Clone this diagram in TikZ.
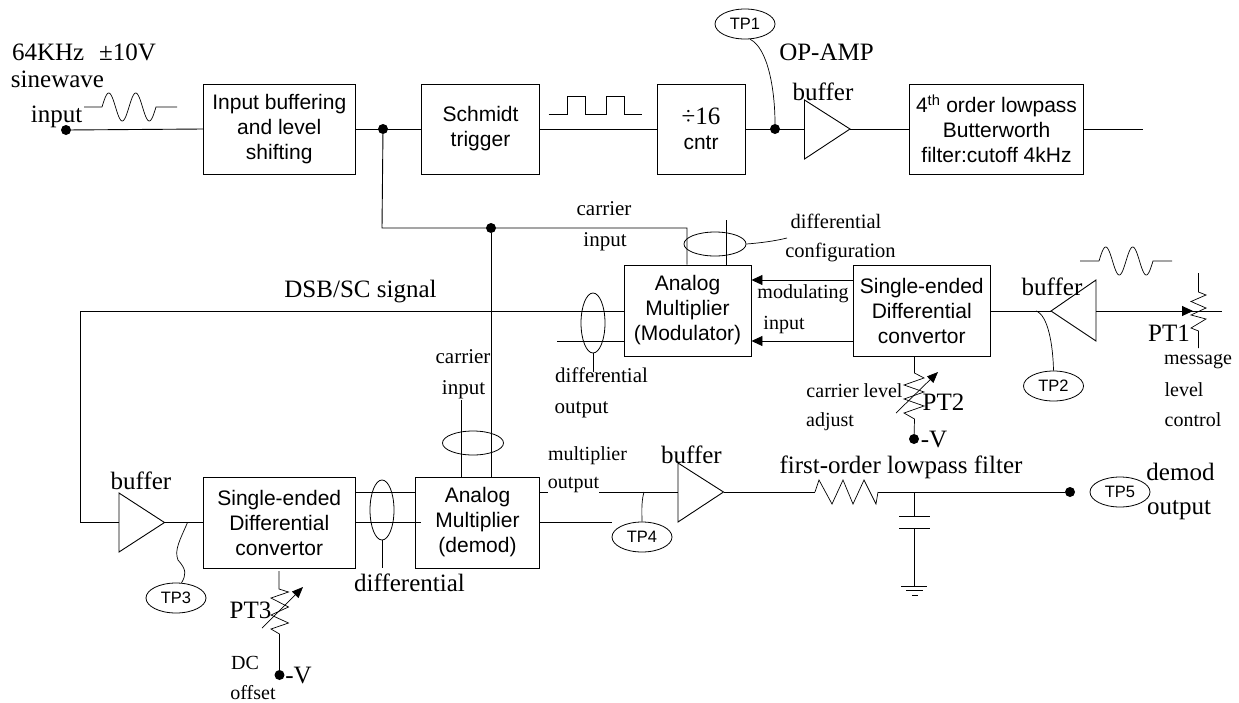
\documentclass[tikz,border=0pt]{standalone}
\usepackage{fontspec}
\setmainfont{Liberation Serif}
\newfontfamily\arialfont{Liberation Sans}
\usetikzlibrary{shapes.geometric,arrows.meta}
\tikzset{
  wire/.style={line width=0.9pt,line join=miter},
  thin wire/.style={line width=0.7pt},
  blk/.style={draw,line width=0.9pt,inner sep=0pt,align=center,font=\arialfont\fontsize{21}{25}\selectfont},
  tp/.style={draw,ellipse,line width=0.8pt,inner sep=0pt,minimum width=60pt,minimum height=30pt,font=\arialfont\fontsize{16.5}{18}\selectfont},
  ring/.style={draw,ellipse,line width=0.8pt,inner sep=0pt},
  dot/.style={circle,fill=black,inner sep=0pt,minimum size=10pt},
  big/.style={inner sep=0pt,align=center,font=\fontsize{25}{30}\selectfont},
  small/.style={inner sep=0pt,align=center,font=\fontsize{20}{24}\selectfont},
  arr/.style={wire,-{Triangle[length=11pt,width=10pt]}}
}
\begin{document}
\begin{tikzpicture}[x=1pt,y=-1pt]
\useasboundingbox (0,0) rectangle (1239,702);
% blocks
\node[blk,minimum width=151.5pt,minimum height=90pt] (ib) at (279.25,129) {Input buffering\\and level\\shifting};
\node[blk,minimum width=118.5pt,minimum height=90pt] (st) at (480.5,129) {Schmidt\\trigger};
\node[blk,minimum width=88pt,minimum height=90pt] (cn) at (701,129) {{\rmfamily\fontsize{25}{25}\selectfont ÷16}\\cntr};
\node[blk,minimum width=174pt,minimum height=90pt] (lp) at (996.5,129) {4\textsuperscript{th} order lowpass\\Butterworth\\filter:cutoff 4kHz};
\node[blk,minimum width=127pt,minimum height=91pt] (mo) at (687.5,310.5) {Analog\\Multiplier\\(Modulator)};
\node[blk,minimum width=136.5pt,minimum height=91pt] (s1) at (921.75,310.5) {Single-ended\\Differential\\convertor};
\node[blk,minimum width=124pt,minimum height=91pt] (de) at (477.5,522.5) {Analog\\Multiplier\\(demod)};
\node[blk,minimum width=151.5pt,minimum height=91pt] (s2) at (279.25,522.5) {Single-ended\\Differential\\convertor};
% buffers
\coordinate (b1t) at (850,129);   \coordinate (b1a) at (804.5,100); \coordinate (b1b) at (804.5,159); \coordinate (b1w) at (804.5,129);
\coordinate (b2t) at (1051,311);  \coordinate (b2a) at (1096,280);  \coordinate (b2b) at (1096,341);  \coordinate (b2w) at (1096,311);
\coordinate (b3t) at (164.5,522.5); \coordinate (b3a) at (119,493); \coordinate (b3b) at (119,552); \coordinate (b3w) at (119,522.5);
\coordinate (b4t) at (723.5,492); \coordinate (b4a) at (678,463);  \coordinate (b4b) at (678,522);  \coordinate (b4w) at (678,492);
\draw[wire] (b1t)--(b1a)--(b1b)--cycle;
\draw[wire] (b2t)--(b2a)--(b2b)--cycle;
\draw[wire] (b3t)--(b3a)--(b3b)--cycle;
\draw[wire] (b4t)--(b4a)--(b4b)--cycle;
% dots
\node[dot] (din) at (66,130) {};
\node[dot] (d1) at (383,129) {};
\node[dot] (d2) at (491,228) {};
\node[dot] (d3) at (775,129) {};
\node[dot] (d4) at (1070,492) {};
\node[dot] (d5) at (914,439) {};
\node[dot] (d6) at (279.5,675) {};
% test points
\node[tp] (tp1) at (745,24) {TP1};
\node[tp] (tp2) at (1053.5,386) {TP2};
\node[tp] (tp3) at (176,598) {TP3};
\node[tp] (tp4) at (642,537) {TP4};
\node[tp] (tp5) at (1120,492) {TP5};
% rings
\node[ring,minimum width=62pt,minimum height=24pt] (r1) at (715,244) {};
\node[ring,minimum width=24pt,minimum height=60pt] (r2) at (593,323) {};
\node[ring,minimum width=24pt,minimum height=60pt] (r3) at (382,510) {};
\node[ring,minimum width=61pt,minimum height=24pt] (r4) at (473,443) {};
% top chain
\draw[wire] (din) -- (ib.west);
\draw[wire] (ib.east) -- (st.west);
\draw[wire] (st.east) -- (cn.west);
\draw[wire] (cn.east) -- (b1w);
\draw[wire] (b1t) -- (lp.west);
\coordinate (lpo) at (1143,129);
\draw[wire] (lp.east) -- (lpo);
\draw[thin wire] (tp1.-72) .. controls (768,48) and (775,90) .. (d3);
% carrier
\coordinate (ca) at (382,228);
\coordinate (cb) at (687,228);
\draw[wire] (d1) -- (ca) -- (cb) -- (cb |- mo.north);
\draw[wire] (d2) -- (d2 |- de.north);
\coordinate (cc) at (726,220);
\draw[wire] (cc) -- (cc |- mo.north);
\coordinate (cd) at (461,400);
\draw[wire] (cd) -- (cd |- de.north);
\coordinate (re) at (787,238);
\draw[thin wire] (r1.east) .. controls (760,243) and (775,241) .. (re);
% modulator
\draw[arr] (s1.west |- 0,280) -- (mo.east |- 0,280);
\draw[arr] (s1.west |- 0,341) -- (mo.east |- 0,341);
\coordinate (fb1) at (80,311);
\coordinate (fb2) at (80,522.5);
\draw[wire] (mo.west |- 0,311) -- (fb1) -- (fb2) -- (b3w);
\coordinate (m2) at (557,341);
\draw[wire] (mo.west |- 0,341) -- (m2);
\coordinate (r2s) at (593,372);
\draw[thin wire] (r2.south) -- (r2s);
% right side
\draw[wire] (s1.east |- 0,311) -- (b2t);
\coordinate (p1o) at (1222,311);
\draw[wire] (b2w) -- (p1o);
\coordinate (p1h) at (1193,311);
\draw[arr] (b2w) -- (p1h);
\draw[thin wire] (1036,311) .. controls (1048,315) and (1053,345) .. (tp2.north);
\coordinate (p1a) at (1198.5,273);
\coordinate (p1b) at (1198.5,348);
\draw[thin wire] (p1a) -- (1198.5,292) -- (1206,295) -- (1191,301.5) -- (1206,308) -- (1191,315) -- (1206,319) -- (1191,328) -- (1198.5,331) -- (p1b);
% PT2
\draw[thin wire] (s1.south -| 914.5,0) -- (914.5,373) -- (924,378) -- (904,385) -- (924,392) -- (904,399) -- (924,406) -- (904,413) -- (914.5,419) -- (d5);
\coordinate (a2s) at (896,413);
\coordinate (a2e) at (938,372);
\draw[thin wire,-{Triangle[length=11pt,width=9pt]}] (a2s) -- (a2e);
% bottom chain
\draw[wire] (b3t) -- (s2.west);
\draw[thin wire] (187.5,522.5) .. controls (180,540) and (174,550) .. (178,560) .. controls (187,570) and (186,575) .. (tp3.70);
\draw[wire] (s2.east |- 0,492) -- (de.west |- 0,492);
\coordinate (de2) at (421,522.5);
\draw[wire] (s2.east) -- (de2);
\coordinate (r3s) at (382,568);
\draw[thin wire] (r3.south) -- (r3s);
\draw[wire] (de.east |- 0,492) -- (b4w);
\coordinate (de3) at (612,522.5);
\draw[wire] (de.east) -- (de3);
\draw[thin wire] (644,492) .. controls (641,502) and (642,515) .. (tp4.north);
% PT3
\draw[thin wire] (279,571) -- (279,589) -- (288.5,592) -- (271,598) -- (288.5,607) -- (271,615) -- (288.5,623) -- (271,629) -- (279.5,634) -- (d6);
\coordinate (a3s) at (262,628);
\coordinate (a3e) at (303,587);
\draw[thin wire,-{Triangle[length=11pt,width=9pt]}] (a3s) -- (a3e);
% filter
\coordinate (rl) at (815,492);
\coordinate (rr) at (878,492);
\draw[wire] (b4t) -- (rl);
\draw[thin wire] (rl) -- (819,480) -- (832,504) -- (843,480) -- (853,504) -- (864,480) -- (876,504) -- (rr);
\draw[wire] (rr) -- (d4);
\coordinate (cj) at (914,492);
\coordinate (gn) at (914,586);
\draw[thin wire] (cj) -- (914,516);
\draw[wire] (899,516) -- (930,516);
\draw[wire] (899,528) -- (930,528);
\draw[thin wire] (914,528) -- (gn);
\draw[wire] (901,586) -- (927,586);
\draw[wire] (906,590.5) -- (923,590.5);
\draw[wire] (912,595) -- (918,595);
% waveforms
\draw[thin wire] (84,107) -- (102,107) plot[domain=0:54,samples=73,smooth] ({102+\x},{107-14*sin(\x*13.3333)}) -- (177,107);
\draw[thin wire] (1080,261) -- (1099,261) plot[domain=0:54,samples=73,smooth] ({1099+\x},{261-14*sin(\x*13.3333)}) -- (1172,261);
\draw[thin wire] (548.5,114) -- (567,114) -- (567,96) -- (585,96) -- (585,114) -- (606,114) -- (606,96) -- (624,96) -- (624,114) -- (642,114);
% labels
\node[big] (l1) at (84,52) {64KHz\hspace{15pt}±10V};
\node[big] (l2) at (57.5,79) {sinewave};
\node[big] (l3) at (56.5,117) {input};
\node[big] (l4) at (826.5,52) {OP-AMP};
\node[big] (l5) at (823,92) {buffer};
\node[small,font=\fontsize{21}{24}\selectfont] (l6) at (604,209) {carrier};
\node[small,font=\fontsize{21}{24}\selectfont] (l7) at (605,242) {input};
\node[small,font=\fontsize{20.5}{24}\selectfont] (l8) at (836,221) {differential};
\node[small,font=\fontsize{20.5}{24}\selectfont] (l9) at (840.5,252) {configuration};
\node[big] (l10) at (360.5,292) {DSB/SC signal};
\node[small] (l11) at (803,294) {modulating};
\node[small] (l12) at (784,325) {input};
\node[big] (l13) at (1052,287) {buffer};
\node[big] (l14) at (1169,333) {PT1};
\node[small] (l15) at (1198,362) {message};
\node[small] (l16) at (1184,390) {level};
\node[small] (l17) at (1193,420) {control};
\node[small,font=\fontsize{21}{24}\selectfont] (l18) at (601.5,375) {differential};
\node[small,font=\fontsize{21}{24}\selectfont] (l19) at (581.5,410) {output};
\node[small,font=\fontsize{21}{24}\selectfont] (l20) at (463,357) {carrier};
\node[small,font=\fontsize{21}{24}\selectfont] (l21) at (463.5,390) {input};
\node[small] (l22) at (854.5,391) {carrier level};
\node[small] (l23) at (830,422) {adjust};
\node[big] (l24) at (943.5,402) {PT2};
\node[big] (l25) at (934,439) {-V};
\node[big] (l26) at (691.5,455) {buffer};
\node[big] (l27) at (901,467) {first-order lowpass filter};
\node[big] (l28) at (1180.5,472) {demod};
\node[big] (l29) at (1179,510) {output};
\node[small] (l30) at (587.5,456) {multiplier};
\node[small,fill=white] (l31) at (573.5,485) {output};
\node[big] (l32) at (141,481) {buffer};
\node[big] (l33) at (409.5,583) {differential};
\node[big] (l34) at (250.5,610) {PT3};
\node[small] (l35) at (245,663) {DC};
\node[small] (l36) at (253,693) {offset};
\node[big] (l37) at (298.5,675) {-V};
\end{tikzpicture}
\end{document}
